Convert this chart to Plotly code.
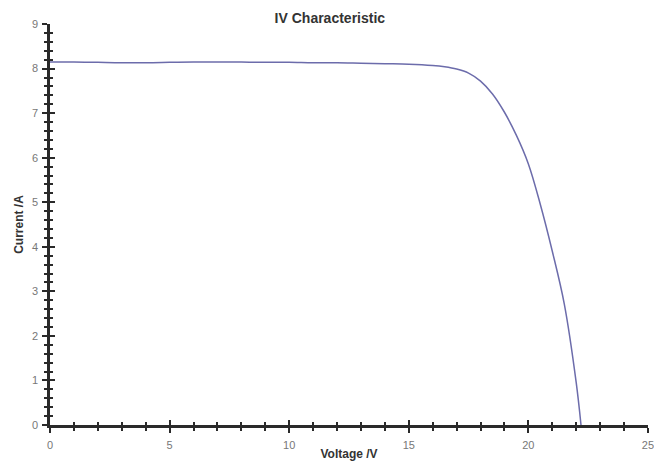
import plotly.graph_objects as go

voltage = [0, 1, 2, 3, 4, 5, 6, 7, 8, 9, 10, 11, 12, 13, 14, 15, 16, 16.5, 17, 17.5,
           18, 18.5, 19, 19.5, 20, 20.5, 21, 21.5, 22, 22.2]
current = [8.15, 8.15, 8.14, 8.13, 8.13, 8.14, 8.15, 8.15, 8.15, 8.14, 8.14, 8.13, 8.13,
           8.12, 8.11, 8.10, 8.07, 8.04, 7.99, 7.90, 7.72, 7.43, 7.02, 6.50, 5.86, 4.95,
           3.90, 2.72, 0.95, 0.0]

x_ticks = [0, 5, 10, 15, 20, 25]
y_ticks = [0, 1, 2, 3, 4, 5, 6, 7, 8, 9]

fig = go.Figure()
fig.add_trace(go.Scatter(x=voltage, y=current, mode="lines",
                         line=dict(color="#6c6cab", width=1.5, shape="spline", smoothing=1.0),
                         showlegend=False))
fig.add_trace(go.Scatter(x=[0], y=[0], xaxis="x2", yaxis="y2", mode="markers",
                         marker=dict(opacity=0), showlegend=False, hoverinfo="skip"))

tickfont = dict(family="Liberation Sans, Arial", size=11, color="#777777")
titlefont = dict(family="Liberation Sans, Arial", size=12, color="#333333")
axc = "#2a2a2a"

fig.update_layout(
    width=654, height=462,
    margin=dict(l=50, r=5.5, t=24, b=37, autoexpand=False),
    paper_bgcolor="white", plot_bgcolor="white",
    title=dict(text="<b>IV Characteristic</b>", xref="paper", x=0.468, xanchor="center",
               y=0.961, yanchor="middle",
               font=dict(family="Liberation Sans, Arial", size=14, color="#333333")),
    xaxis=dict(range=[0, 25.001], tickvals=x_ticks, ticktext=[str(v) for v in x_ticks],
               showgrid=False, zeroline=False, showline=True, linecolor=axc, linewidth=2.5,
               ticks="outside", ticklen=5, tickwidth=2, tickcolor=axc,
               minor=dict(dtick=1, ticks="outside", ticklen=3, tickwidth=1.5, tickcolor=axc),
               tickfont=tickfont, ticklabeloverflow="allow", ticklabelstandoff=3,
               automargin=False,
               title=dict(text="<b>Voltage /V</b>", font=titlefont, standoff=0)),
    yaxis=dict(range=[0, 9.001], tickvals=y_ticks, ticktext=[str(v) for v in y_ticks],
               showgrid=False, zeroline=False, showline=True, linecolor=axc, linewidth=2.5,
               ticks="outside", ticklen=5, tickwidth=2, tickcolor=axc,
               minor=dict(dtick=0.2, ticks="outside", ticklen=3, tickwidth=1.5, tickcolor=axc),
               tickfont=tickfont, ticklabelstandoff=2, automargin=False,
               title=dict(text="<b>Current /A</b>", font=titlefont, standoff=6)),
    xaxis2=dict(range=[0, 25.001], overlaying="x", anchor="y2", side="bottom", showgrid=False,
                zeroline=False, showticklabels=False, tickvals=x_ticks,
                ticks="inside", ticklen=5, tickwidth=2, tickcolor=axc,
                minor=dict(dtick=1, ticks="inside", ticklen=3, tickwidth=1.5, tickcolor=axc)),
    yaxis2=dict(range=[0, 9.001], overlaying="y", anchor="x2", side="left", showgrid=False,
                zeroline=False, showticklabels=False, tickvals=y_ticks,
                ticks="inside", ticklen=5, tickwidth=2, tickcolor=axc,
                minor=dict(dtick=0.2, ticks="inside", ticklen=3, tickwidth=1.5, tickcolor=axc)),
)

fig.write_html("out.html")
